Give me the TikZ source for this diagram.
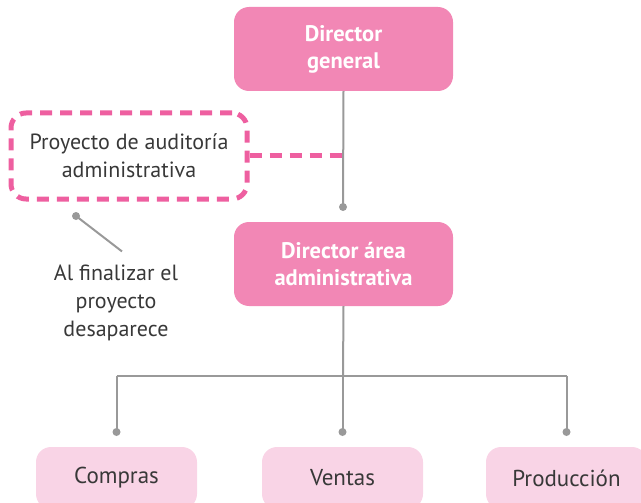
\documentclass[tikz,border=0pt]{standalone}
\usepackage{fontspec}
\setmainfont{PT Sans}
\definecolor{pinkdark}{HTML}{F287B5}
\definecolor{pinklight}{HTML}{F9D4E6}
\definecolor{pinkdash}{HTML}{EE5FA0}
\definecolor{linegray}{HTML}{999999}
\definecolor{textgray}{HTML}{383838}
\tikzset{
    boxdark/.style = {rounded corners=15pt, fill=pinkdark, minimum width=219pt, minimum height=84pt,
        text=white, font=\fontsize{22.5}{27}\selectfont\bfseries, align=center},
    boxlight/.style = {rounded corners=15pt, fill=pinklight, minimum width=161pt, minimum height=62pt,
        text=textgray, font=\fontsize{23}{27}\selectfont},
    dashbox/.style = {rounded corners=15pt, draw=pinkdash, line width=5pt, dash pattern=on 12pt off 8pt,
        minimum width=236pt, minimum height=86pt, text=textgray, font=\fontsize{22}{28}\selectfont, align=center},
    conn/.style = {draw=linegray, line width=2pt},
    dot/.style = {circle, fill=linegray, inner sep=0pt, minimum size=8pt}
}
\begin{document}
\begin{tikzpicture}[x=1pt,y=-1pt]
            \useasboundingbox (0,0) rectangle (641,503);
            \clip (0,0) rectangle (641,503);
            \node[boxdark] (dirgen) at (343.5,49) {Director\\general};
            \node[boxdark] (dirarea) at (343.5,264) {Director área\\administrativa};
            \node[dashbox] (proyecto) at (129,156) {Proyecto de auditoría\\administrativa};
            \node[boxlight] (compras) at (116.5,478) {Compras};
            \node[boxlight] (ventas) at (342.5,478) {Ventas};
            \node[boxlight] (produccion) at (566.5,478) {Producción};
            \node[text=textgray, font=\fontsize{22}{28}\selectfont, align=center] (nota) at (116,303)
                {Al finalizar el\\proyecto\\desaparece};
            % connectors
            \coordinate (topend) at (343,207);
            \coordinate (split) at (343,376);
            \coordinate (notaend) at (76,216);
            \draw[conn] (dirgen.south) -- (topend);
            \node[dot] at (topend) {};
            \draw[draw=pinkdash, line width=5pt, dash pattern=on 12pt off 8pt] (proyecto.east) -- (proyecto.east -| dirgen.south);
            \draw[conn] (dirarea.south) -- (split);
            \draw[conn] (compras.north |- split) -- (produccion.north |- split);
            \foreach \b in {compras, ventas, produccion}{
                \draw[conn] (\b.north |- split) -- ++(0,56) node[dot] {};
            }
            \draw[conn] (nota.north) ++(6,-10) -- (notaend);
            \node[dot] at (notaend) {};
\end{tikzpicture}
\end{document}
